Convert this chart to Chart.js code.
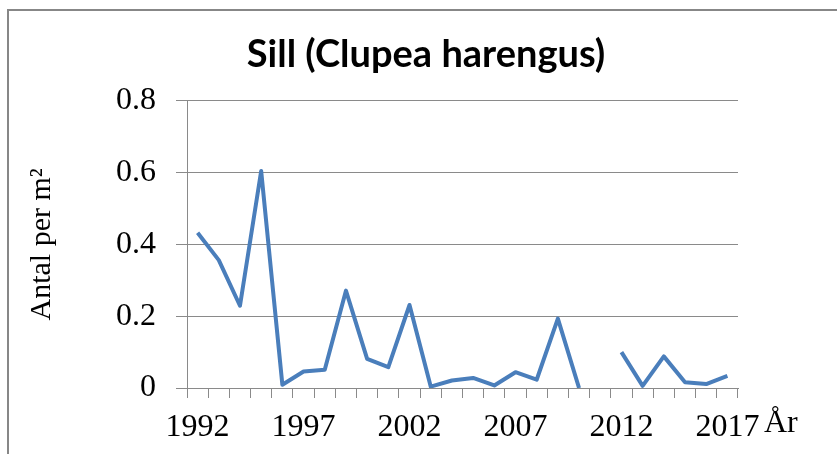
<!DOCTYPE html>
<html>
<head>
<meta charset="utf-8">
<script src="https://cdn.jsdelivr.net/npm/chart.js@4/dist/chart.umd.min.js"></script>
<style>
  html, body { margin: 0; padding: 0; background: #fff; }
  #wrap { width: 837px; height: 454px; position: relative; }
</style>
</head>
<body>
<div id="wrap"><canvas id="c" width="837" height="454"></canvas></div>
<script>
const years = ['1992','1993','1994','1995','1996','1997','1998','1999','2000','2001','2002','2003','2004','2005','2006','2007','2008','2009','2010','2011','2012','2013','2014','2015','2016','2017'];
const sillValues = [0.432,0.356,0.229,0.604,0.009,0.046,0.051,0.271,0.081,0.058,0.231,0.004,0.021,0.028,0.007,0.044,0.023,0.193,0.0,null,0.100,0.006,0.088,0.016,0.011,0.034];
const xTickLabels = ['1992','1997','2002','2007','2012','2017'];
const yTicks = [0, 0.2, 0.4, 0.6, 0.8];
const yTickLabels = ['0','0.2','0.4','0.6','0.8'];
const titleText = 'Sill (Clupea harengus)';
const yTitle = 'Antal per m²';
const xTitle = 'År';

const GRID = '#8a8a8a';
const SERIF = '"Liberation Serif", "Times New Roman", serif';

const framePlugin = {
  id: 'frame',
  beforeDraw(chart) {
    const ctx = chart.ctx;
    ctx.save();
    ctx.fillStyle = '#fff';
    ctx.fillRect(0, 0, chart.width, chart.height);
    ctx.strokeStyle = '#878787';
    ctx.lineWidth = 2;
    ctx.beginPath();
    ctx.moveTo(8, chart.height);
    ctx.lineTo(8, 10);
    ctx.lineTo(chart.width, 10);
    ctx.stroke();
    ctx.restore();
  },
  afterDraw(chart) {
    const ctx = chart.ctx;
    const xs = chart.scales.x;
    ctx.save();
    ctx.fillStyle = '#000';
    ctx.font = '32px ' + SERIF;
    ctx.textAlign = 'left';
    ctx.textBaseline = 'middle';
    ctx.fillText(xTitle, xs.right + 26, xs.top + 10 + 10 + 19.2 - 4);
    ctx.restore();
  }
};

new Chart(document.getElementById('c'), {
  type: 'line',
  data: {
    labels: years,
    datasets: [{
      data: sillValues,
      borderColor: '#4A7EBB',
      borderWidth: 4,
      borderJoinStyle: 'round',
      pointRadius: 0,
      pointHoverRadius: 0,
      tension: 0,
      spanGaps: false,
      fill: false
    }]
  },
  options: {
    responsive: false,
    animation: false,
    devicePixelRatio: 1,
    layout: { padding: { left: 15, right: 0, top: 0, bottom: 0 } },
    plugins: {
      legend: { display: false },
      tooltip: { enabled: false },
      title: {
        display: true,
        text: titleText,
        color: '#000',
        font: { family: 'Lato, "Open Sans", sans-serif', size: 38, weight: 'bold', lineHeight: 1.2 },
        padding: { top: 32, bottom: 23 }
      }
    },
    scales: {
      x: {
        type: 'category',
        offset: true,
        grid: { display: true, drawOnChartArea: false, drawTicks: true, tickLength: 10, color: GRID, offset: true },
        border: { display: true, color: GRID, width: 1 },
        ticks: {
          autoSkip: false,
          maxRotation: 0,
          minRotation: 0,
          padding: 10,
          color: '#000',
          font: { family: SERIF, size: 32, lineHeight: 1.2 },
          callback: function(value, index) {
            const lab = years[index];
            return xTickLabels.includes(lab) ? lab : '';
          }
        },
        afterFit(scale) { scale.height = 66; }
      },
      y: {
        min: 0,
        max: 0.8,
        afterBuildTicks(scale) { scale.ticks = yTicks.map(v => ({ value: v })); },
        grid: { color: GRID, lineWidth: 1, drawTicks: true, tickLength: 11 },
        border: { display: true, color: GRID, width: 1 },
        ticks: {
          padding: 20,
          color: '#000',
          font: { family: SERIF, size: 32, lineHeight: 1.2 },
          callback: function(value) {
            const i = yTicks.indexOf(value);
            return i >= 0 ? yTickLabels[i] : '';
          }
        },
        title: {
          display: true,
          text: yTitle,
          color: '#000',
          font: { family: SERIF, size: 30, lineHeight: 1.2 },
          padding: { top: 9, bottom: 0 }
        },
        afterFit(scale) { scale.width = 172; }
      },
      pad: {
        type: 'linear',
        position: 'right',
        display: true,
        grid: { display: false, drawTicks: false },
        border: { display: false },
        ticks: { display: false },
        afterFit(scale) { scale.width = 99; }
      }
    }
  },
  plugins: [framePlugin]
});
</script>
</body>
</html>
